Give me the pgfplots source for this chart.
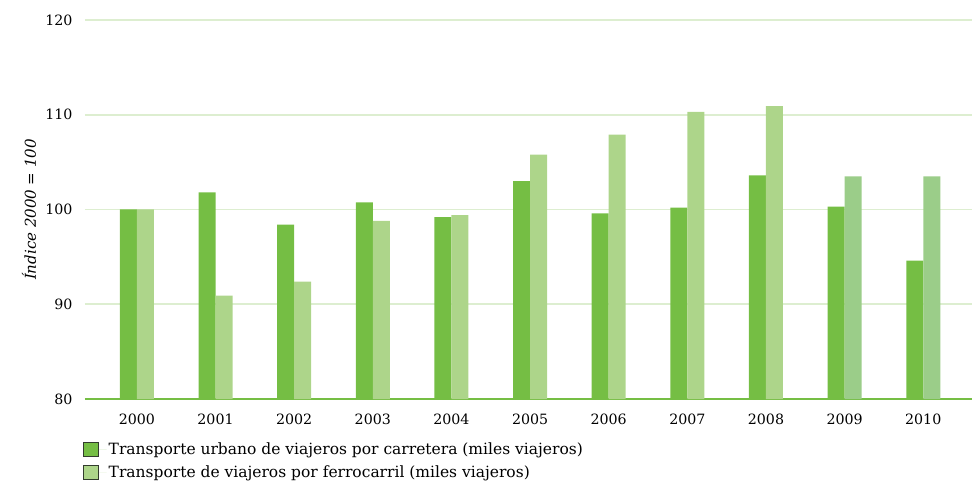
\documentclass[border=0pt]{standalone}
\usepackage{fontspec}
\setmainfont{DejaVu Serif}
\usepackage{pgfplots}
\pgfplotsset{compat=1.18}

\definecolor{verde}{RGB}{117,190,68}
\definecolor{verdeclaro}{RGB}{173,213,138}
\definecolor{verdeclarob}{RGB}{155,205,137}
\definecolor{rejilla}{RGB}{221,238,208}
\definecolor{borde}{RGB}{50,60,45}

\begin{document}
\begin{tikzpicture}
\useasboundingbox (-85bp,-91bp) rectangle (894bp,399bp);
\begin{axis}[
  scale only axis, width=887bp, height=379bp,
  ybar, bar width=17bp,
  xmin=-0.66, xmax=10.62, ymin=80, ymax=120,
  xtick={0,...,10},
  xticklabels={2000,2001,2002,2003,2004,2005,2006,2007,2008,2009,2010},
  ytick={80,90,100,110,120},
  major tick length=0pt,
  axis x line*=bottom, axis y line*=left,
  x axis line style={draw=verde, line width=1.6bp, -},
  y axis line style={draw=none},
  ymajorgrids, grid style={draw=rejilla, line width=1.6bp},
  tick label style={font=\fontsize{14.2bp}{16bp}\selectfont},
  /pgf/number format/assume math mode=true,
  xticklabel style={yshift=-11bp},
  yticklabel style={xshift=-9bp},
  ylabel={\textit{Índice 2000 = 100}},
  ylabel style={font=\fontsize{15bp}{17bp}\selectfont, at={(axis description cs:-0.063,0.5)}, anchor=center},
  legend style={at={(axis description cs:0,0)}, anchor=north west, xshift=-2bp, yshift=-42bp,
    draw=none, fill=none, inner sep=0pt, row sep=5bp,
    font=\fontsize{15.5bp}{18bp}\selectfont, legend cell align=left,
    nodes={inner sep=2bp}},
]
\addplot[fill=verde, draw=none, bar shift=-8.5bp,
  legend image code/.code={\path (0bp,0bp) -- (23bp,0bp);\draw[fill=verde, draw=borde, line width=1bp] (0bp,-7bp) rectangle (15bp,7bp);}]
  coordinates {(0,100) (1,101.8) (2,98.4) (3,100.75) (4,99.2) (5,103.0) (6,99.6) (7,100.2) (8,103.6) (9,100.3) (10,94.6)};
\addlegendentry{Transporte urbano de viajeros por carretera (miles viajeros)}
\addplot[fill=verdeclaro, draw=none, bar shift=8.5bp,
  legend image code/.code={\path (0bp,0bp) -- (23bp,0bp);\draw[fill=verdeclaro, draw=borde, line width=1bp] (0bp,-7bp) rectangle (15bp,7bp);}]
  coordinates {(0,100) (1,90.9) (2,92.4) (3,98.8) (4,99.4) (5,105.8) (6,107.9) (7,110.3) (8,110.9)};
\addlegendentry{Transporte de viajeros por ferrocarril (miles viajeros)}
\addplot[fill=verdeclarob, draw=none, bar shift=8.5bp, forget plot]
  coordinates {(9,103.5) (10,103.5)};
\end{axis}
\end{tikzpicture}
\end{document}
